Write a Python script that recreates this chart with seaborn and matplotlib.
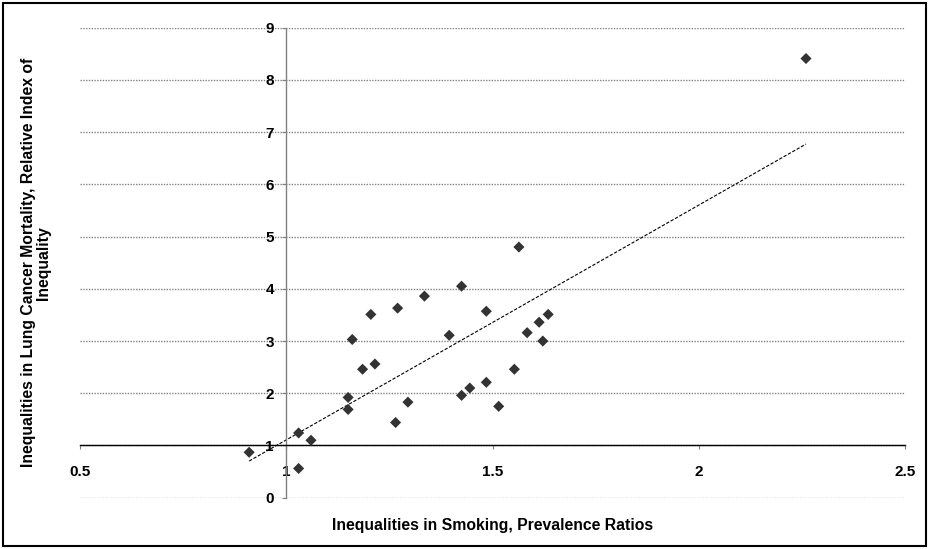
import numpy as np
import pandas as pd
import matplotlib
matplotlib.use("Agg")
import matplotlib.pyplot as plt
from matplotlib.patches import Rectangle
import seaborn as sns

# Data
smoking_pr = [0.91, 1.03, 1.03, 1.06, 1.15, 1.15, 1.16, 1.185, 1.205, 1.215,
              1.265, 1.27, 1.295, 1.335, 1.395, 1.425, 1.425, 1.445, 1.485, 1.485,
              1.515, 1.553, 1.564, 1.584, 1.613, 1.622, 1.635, 2.26]
lung_rii = [0.87, 1.24, 0.56, 1.10, 1.92, 1.69, 3.03, 2.46, 3.51, 2.56,
            1.44, 3.63, 1.83, 3.86, 3.11, 4.05, 1.96, 2.10, 3.57, 2.21,
            1.75, 2.46, 4.80, 3.16, 3.36, 3.00, 3.51, 8.41]
x_ticks = [0.5, 1, 1.5, 2, 2.5]
x_tick_labels = ["0.5", "1", "1.5", "2", "2.5"]
y_ticks = list(range(0, 10))
y_tick_labels = [str(v) for v in y_ticks]
x_label = "Inequalities in Smoking, Prevalence Ratios"
y_label = "Inequalities in Lung Cancer Mortality, Relative Index of\nInequality"

df = pd.DataFrame({"smoking": smoking_pr, "lung": lung_rii})

sns.set_theme(style="white")
plt.rcParams["font.family"] = ["Liberation Sans", "DejaVu Sans"]
plt.rcParams["font.weight"] = "bold"

FS = 11.3

fig = plt.figure(figsize=(9.29, 5.49), dpi=100)
ax = fig.add_axes([80 / 929, 1 - 497.7 / 549, 825 / 929, 470 / 549])

# gridlines
for yv in y_ticks:
    ax.axhline(yv, color="#808080", lw=1.0, ls=(0, (1, 1)), zorder=0)

sns.regplot(data=df, x="smoking", y="lung", scatter=False, ci=None, truncate=True,
            color="black", line_kws=dict(lw=0.8, ls=(0, (3, 1.5))), ax=ax)
sns.scatterplot(data=df, x="smoking", y="lung", marker="D", s=32, color="#333333",
                edgecolor="none", ax=ax, zorder=3, legend=False)

ax.set_xlim(0.5, 2.5)
ax.set_ylim(0, 9)
ax.set_xticks(x_ticks)
ax.set_xticklabels(x_tick_labels, fontsize=FS, fontweight="bold")
ax.set_yticks(y_ticks)
ax.set_yticklabels(y_tick_labels, fontsize=FS, fontweight="bold")

for s in ["top", "right"]:
    ax.spines[s].set_visible(False)
ax.spines["left"].set_position(("data", 1))
ax.spines["left"].set_color("#808080")
ax.spines["left"].set_linewidth(1.0)
ax.spines["bottom"].set_position(("data", 1))
ax.spines["bottom"].set_color("black")
ax.spines["bottom"].set_linewidth(1.0)

ax.tick_params(axis="x", direction="out", length=3, width=0.8, color="#808080",
               pad=11, bottom=True, labelcolor="black")
ax.tick_params(axis="y", direction="out", length=3, width=0.8, color="#808080",
               pad=6, left=True, labelcolor="black")

ax.set_xlabel(x_label, fontsize=FS, fontweight="bold", color="black")
ax.xaxis.label.set_va("center")
ax.xaxis.set_label_coords(0.5, -0.0596)
ax.set_ylabel(y_label, fontsize=FS, fontweight="bold", color="black", linespacing=1.0)
ax.yaxis.label.set_va("center")
ax.yaxis.set_label_coords(-0.0533, 0.5)

fig.patches.append(Rectangle((3 / 929, 3 / 549), 923 / 929, 543 / 549, transform=fig.transFigure,
                             fill=False, edgecolor="black", lw=1.5))

fig.savefig("out.png", dpi=100)
